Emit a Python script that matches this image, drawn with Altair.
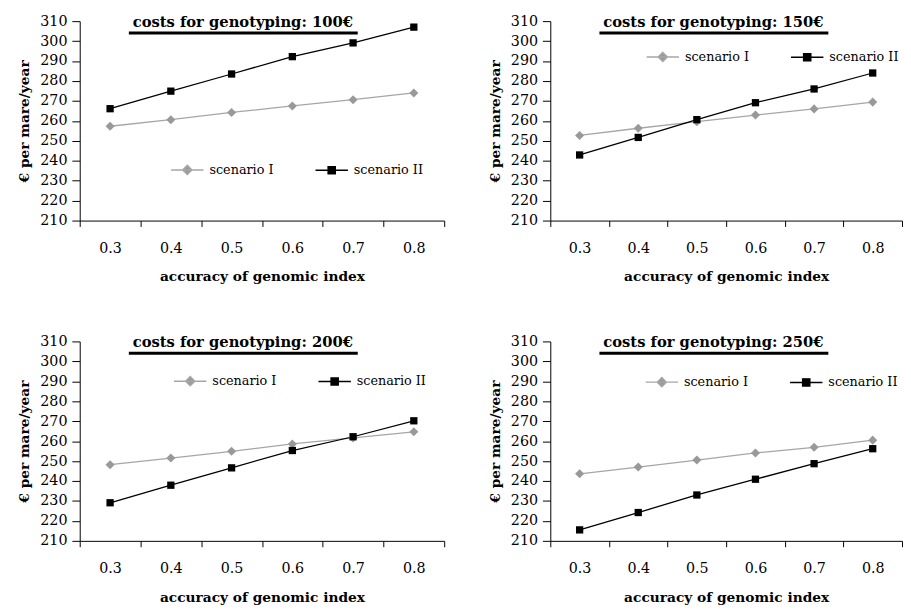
import altair as alt
import pandas as pd

accuracy = ["0.3", "0.4", "0.5", "0.6", "0.7", "0.8"]
scenarios = ["scenario I", "scenario II"]
costs = ["100€", "150€", "200€", "250€"]

s1_100 = [257.3, 260.6, 264.2, 267.5, 270.6, 274.0]
s2_100 = [266.1, 274.9, 283.5, 292.2, 299.1, 307.0]
s1_150 = [252.7, 256.3, 259.6, 262.9, 266.0, 269.4]
s2_150 = [242.9, 251.7, 260.6, 269.1, 276.0, 284.0]
s1_200 = [248.2, 251.5, 254.9, 258.6, 261.6, 264.7]
s2_200 = [229.1, 237.9, 246.6, 255.3, 262.2, 270.2]
s1_250 = [243.6, 247.0, 250.5, 254.1, 256.9, 260.5]
s2_250 = [215.5, 224.2, 233.0, 240.9, 248.7, 256.2]

FONT = "DejaVu Serif"
GRAY_LINE = "#a6a6a6"
GRAY_FILL = "#999999"
H = 203

diamond_path = "M-1,0H1M0,-0.28L0.28,0L0,0.28L-0.28,0Z"
square_path = "M-1,0H1M-0.22,-0.22H0.22V0.22H-0.22Z"


def panel(cost, s1, s2, lx, ly, w):
    df = pd.DataFrame({
        "accuracy": accuracy * 2,
        "value": s1 + s2,
        "scenario": [scenarios[0]] * 6 + [scenarios[1]] * 6,
    })
    x = alt.X("accuracy:O", sort=accuracy,
              scale=alt.Scale(type="band", paddingInner=0, paddingOuter=0),
              axis=alt.Axis(title="accuracy of genomic index", labelAngle=0,
                            tickBand="extent"))
    y = alt.Y("value:Q", scale=alt.Scale(domain=[210, 310], nice=False, zero=False),
              axis=alt.Axis(title="€ per mare/year", values=list(range(210, 311, 10))))
    leg = alt.Legend(orient="none", legendX=lx, legendY=ly, direction="horizontal",
                     title=None, symbolSize=1089, symbolStrokeWidth=1.5,
                     labelFont=FONT, labelFontSize=13, labelColor="#000000",
                     labelOffset=5, columnPadding=39, padding=0)
    stroke_scale = alt.Scale(domain=scenarios, range=[GRAY_LINE, "#000000"])
    base = alt.Chart(df)
    lines = base.mark_line(strokeWidth=1.3).encode(
        x=x, y=y, stroke=alt.Stroke("scenario:N", scale=stroke_scale, legend=leg))
    pts1 = base.transform_filter(alt.datum.scenario == scenarios[0]).mark_point(
        shape="diamond", filled=True, size=85, color=GRAY_FILL, opacity=1).encode(x=x, y=y)
    pts2 = base.transform_filter(alt.datum.scenario == scenarios[1]).mark_point(
        shape="square", filled=True, size=55, color="#000000", opacity=1).encode(x=x, y=y)
    legend_layer = base.transform_filter("false").mark_point(opacity=1).encode(
        x=x, y=y,
        stroke=alt.Stroke("scenario:N", scale=stroke_scale, legend=leg),
        fill=alt.Fill("scenario:N", scale=alt.Scale(domain=scenarios, range=[GRAY_FILL, "#000000"]), legend=leg),
        shape=alt.Shape("scenario:N", scale=alt.Scale(domain=scenarios, range=[diamond_path, square_path]), legend=leg),
    )
    tdf = pd.DataFrame({"t": ["costs for genotyping: " + cost]})
    ttl = alt.Chart(tdf).mark_text(font=FONT, fontWeight="bold", fontSize=15,
                                   baseline="alphabetic", align="center", color="#000000").encode(
        text="t:N", x=alt.value(166), y=alt.value(6))
    und = alt.Chart(tdf).mark_rule(strokeWidth=3, color="#000000").encode(
        x=alt.value(50), x2=alt.value(283), y=alt.value(12))
    return alt.layer(lines, pts1, pts2, legend_layer, ttl, und).properties(width=w, height=H)


p1 = panel(costs[0], s1_100, s2_100, 92, 133.5, 371)
p2 = panel(costs[1], s1_150, s2_150, 97, 18.5, 358)
p3 = panel(costs[2], s1_200, s2_200, 95, 22.5, 371)
p4 = panel(costs[3], s1_250, s2_250, 96, 23.5, 358)

indep = dict(stroke="independent", fill="independent", shape="independent")
row1 = alt.hconcat(p1, p2, spacing=44).resolve_scale(**indep)
row2 = alt.hconcat(p3, p4, spacing=44).resolve_scale(**indep)

chart = alt.vconcat(row1, row2, spacing=50).resolve_scale(**indep).properties(
    padding={"left": 10, "top": 0, "right": 0, "bottom": 0},
    background="white",
).configure_view(stroke=None).configure_axis(
    labelFont=FONT, titleFont=FONT, labelColor="#000000", titleColor="#000000",
    domainColor="#000000", tickColor="#000000", grid=False,
    titleFontWeight="bold", titleFontSize=14,
).configure_axisX(
    labelFontSize=14.5, tickSize=6, labelPadding=15, titlePadding=16,
).configure_axisY(
    labelFontSize=14.5, tickSize=8, labelPadding=5, titlePadding=8,
)

chart.save("out.html", embed_options={"renderer": "svg", "actions": False})
